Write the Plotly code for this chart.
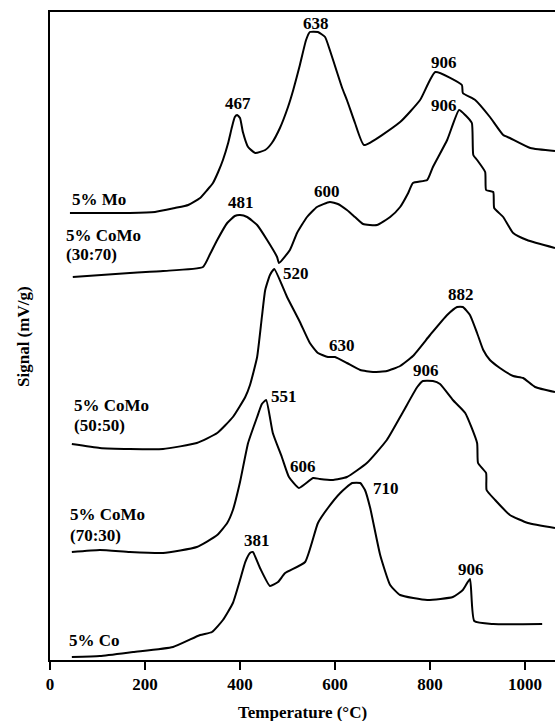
import plotly.graph_objects as go

# Temperature-programmed reduction profiles (signal in mV/g, stacked with vertical offsets)
temp_mo = [42, 168, 221, 263, 291, 316, 331, 343, 354, 364, 375, 383, 389, 394, 400, 406,
           417, 432, 453, 467, 484, 501, 512, 526, 539, 547, 564, 579, 589, 604, 615, 625,
           642, 661, 737, 779, 811, 867, 869, 895, 926, 954, 968, 1011, 1063]
sig_mo = [447, 447, 448, 452, 455, 462, 470, 477, 488, 500, 517, 533, 543, 545, 542, 528,
          513, 507, 510, 517, 532, 553, 570, 595, 620, 628, 628, 623, 610, 588, 572, 560,
          537, 515, 538, 560, 588, 575, 567, 560, 543, 525, 522, 512, 509]

temp_como_30_70 = [48, 168, 238, 322, 337, 352, 373, 389, 400, 415, 436, 457, 478, 482, 505,
                   520, 541, 562, 589, 606, 625, 642, 659, 688, 716, 737, 754, 764, 794, 806,
                   836, 861, 874, 888, 891, 899, 916, 918, 933, 935, 954, 975, 1004, 1063]
sig_como_30_70 = [383, 387, 389, 393, 406, 420, 437, 444, 445, 443, 435, 420, 403, 397, 410,
                  427, 443, 453, 458, 456, 450, 443, 436, 435, 443, 453, 467, 477, 480, 493,
                  520, 550, 545, 537, 505, 500, 488, 470, 468, 452, 443, 427, 420, 412]

temp_como_50_50 = [46, 105, 168, 238, 309, 352, 385, 411, 421, 436, 446, 453, 463, 472, 499,
                   526, 547, 564, 585, 600, 625, 653, 680, 709, 737, 764, 800, 836, 857, 869,
                   884, 899, 912, 926, 947, 975, 996, 1021, 1063]
sig_como_50_50 = [216, 212, 211, 211, 217, 227, 243, 263, 275, 303, 343, 370, 385, 391, 363,
                  338, 317, 307, 303, 303, 297, 290, 288, 289, 294, 304, 325, 345, 353, 353,
                  345, 327, 310, 300, 292, 284, 282, 273, 268]

temp_como_70_30 = [46, 105, 168, 238, 309, 352, 373, 385, 400, 417, 436, 446, 455, 469, 488,
                   503, 524, 554, 568, 596, 625, 667, 709, 743, 773, 785, 806, 821, 848, 874,
                   899, 901, 918, 919, 937, 968, 1006, 1063]
sig_como_70_30 = [108, 110, 108, 107, 113, 125, 137, 150, 178, 217, 243, 256, 260, 227, 203,
                  183, 172, 182, 181, 180, 183, 197, 220, 248, 273, 279, 279, 276, 260, 247,
                  217, 197, 187, 170, 160, 145, 137, 132]

temp_co = [46, 105, 175, 259, 316, 341, 364, 385, 400, 411, 421, 427, 442, 463, 480, 495,
           537, 564, 585, 611, 636, 653, 663, 674, 695, 716, 737, 794, 848, 869, 884, 893,
           933, 1036]
sig_co = [3, 4, 8, 13, 25, 28, 40, 57, 80, 98, 107, 108, 92, 74, 78, 87,
          98, 137, 152, 167, 177, 177, 170, 152, 105, 75, 65, 60, 63, 70, 81, 39,
          36, 36]

# Peak temperatures printed next to each profile: (profile, vertex index, text)
peak_labels = {
    "mo": [(13, "467"), (25, "638"), (36, "906")],
    "30_70": [(8, "481"), (18, "600"), (31, "906")],
    "50_50": [(13, "520"), (18, "630"), (28, "882")],
    "70_30": [(12, "551"), (16, "606"), (25, "906")],
    "co": [(11, "381"), (21, "710"), (30, "906")],
}

x_ticks = [0, 200, 400, 600, 800, 1000]

FONT = "Liberation Serif, Times New Roman, serif"
INK = "black"

profiles = {
    "mo": (temp_mo, sig_mo),
    "30_70": (temp_como_30_70, sig_como_30_70),
    "50_50": (temp_como_50_50, sig_como_50_50),
    "70_30": (temp_como_70_30, sig_como_70_30),
    "co": (temp_co, sig_co),
}

# pixel offsets of each peak label from its vertex (x right, y up)
label_offsets = {
    "mo": [(0.5, 11.5), (6, 8.5), (9, 10)],
    "30_70": [(1, 13), (-3, 11), (-15, 5)],
    "50_50": [(22, -4.5), (14, 12), (4, 13)],
    "70_30": [(18, 3.5), (4.5, 21.5), (3, 11)],
    "co": [(4.5, 11.5), (26, -5.5), (1.5, 9.5)],
}

# sample names drawn at the left end of each profile: (lines, x, y per line)
sample_names = [
    (["5% Mo"], 42, [461]),
    (["5% CoMo", "(30:70)"], 30, [425, 406]),
    (["5% CoMo", "(50:50)"], 46, [255, 235]),
    (["5% CoMo", "(70:30)"], 38, [146, 125]),
    (["5% Co"], 36, [20]),
]

fig = go.Figure()
for key, (tx, sy) in profiles.items():
    fig.add_trace(go.Scatter(x=tx, y=sy, mode="lines",
                             line=dict(color=INK, width=2, shape="spline", smoothing=0.45),
                             hoverinfo="skip"))

annotations = []
for key, items in peak_labels.items():
    tx, sy = profiles[key]
    for (idx, text), (dx, dy) in zip(items, label_offsets[key]):
        annotations.append(dict(x=tx[idx], y=sy[idx], xref="x", yref="y", text=text,
                                showarrow=False, xanchor="center", yanchor="middle",
                                xshift=dx, yshift=dy,
                                font=dict(family=FONT, size=17, color=INK, weight="bold")))

for lines, x0, ys in sample_names:
    for line, yv in zip(lines, ys):
        annotations.append(dict(x=x0, y=yv, xref="x", yref="y", text=line,
                                showarrow=False, xanchor="left", yanchor="middle",
                                font=dict(family=FONT, size=17, color=INK, weight="bold")))

# axis titles
annotations.append(dict(x=0.5, y=-0.081, xref="paper", yref="paper",
                        text="Temperature (°C)", showarrow=False,
                        xanchor="center", yanchor="middle",
                        font=dict(family=FONT, size=17, color=INK, weight="bold")))
annotations.append(dict(x=-0.0535, y=0.5, xref="paper", yref="paper",
                        text="Signal (mV/g)", showarrow=False, textangle=-90,
                        xanchor="center", yanchor="middle",
                        font=dict(family=FONT, size=17, color=INK, weight="bold")))

fig.update_layout(
    width=555, height=721,
    margin=dict(l=50, r=0, t=12, b=61),
    plot_bgcolor="white", paper_bgcolor="white",
    showlegend=False,
    annotations=annotations,
    xaxis=dict(range=[0, 1063], tickvals=x_ticks, ticks="outside", ticklen=8,
               tickwidth=2, tickcolor=INK, showline=True, linewidth=2,
               linecolor=INK, mirror=True, showgrid=False, zeroline=False,
               tickfont=dict(family=FONT, size=17, color=INK, weight="bold")),
    yaxis=dict(range=[0, 648], showline=True, linewidth=2, linecolor=INK,
               ticks="", showticklabels=False, showgrid=False, zeroline=False),
)

fig.write_html("out.html", config={"displayModeBar": False})
